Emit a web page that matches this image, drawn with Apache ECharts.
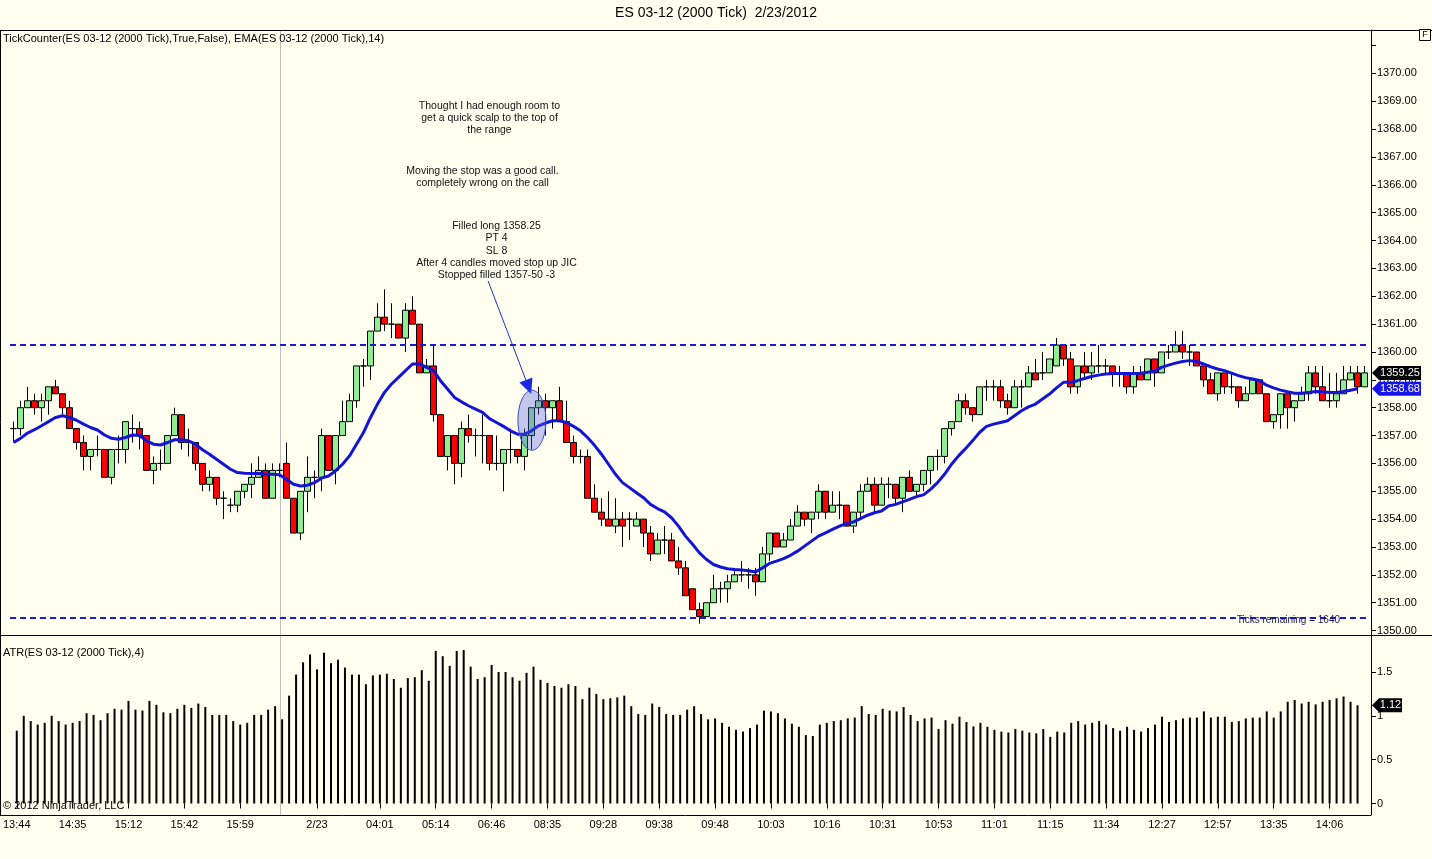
<!DOCTYPE html>
<html>
<head>
    <meta charset="utf-8" />
    <title>ES 03-12 (2000 Tick) 2/23/2012</title>
    <script src="https://cdn.jsdelivr.net/npm/echarts@6/dist/echarts.min.js"></script>
    <style>
        html, body { margin: 0; padding: 0; background: #fffff0; }
        #main { width: 1432px; height: 859px; }
    </style>
</head>
<body>
    <div id="main"></div>
    <script type="text/javascript">
        // 2000 tick bars, ES 03-12
        var opens = [
            1357.25,1357.25,1358,1358.25,1358,1358.25,1358.75,1358.5,1358,1357.25,
            1356.75,1356.25,1356.5,1356.5,1355.5,1356.5,1356.5,1357.25,1357.25,1357,
            1355.75,1356,1356,1357,1357.75,1356.75,1356.75,1356,1355.25,1355.5,
            1354.75,1354.5,1354.5,1355,1355.25,1355.5,1355.75,1354.75,1355.75,1356,
            1354.75,1353.5,1355,1355.5,1355.5,1357,1355.75,1357,1357.5,1358.25,
            1359.5,1359.5,1360.75,1361.25,1361,1361,1360.5,1361.5,1361,1359.25,
            1359.5,1357.75,1356.25,1357,1356,1357.25,1357,1357,1357,1356,
            1356,1356.5,1356.5,1356.25,1357,1358,1358.25,1358,1358.25,1357.5,
            1356.75,1356.25,1356.25,1354.75,1354.25,1354,1353.75,1354,1354,1353.75,
            1354,1353.5,1352.75,1353.25,1353.25,1352.5,1352.25,1351.5,1350.75,1350.5,
            1351,1351.5,1351.5,1351.75,1352,1352,1352,1351.75,1352.75,1353.5,
            1353,1353.25,1353.75,1354.25,1354,1354.25,1355,1354.25,1354.5,1354.5,
            1353.75,1354.25,1355,1355.25,1354.5,1355.25,1355.25,1354.75,1355.5,1355,
            1355.25,1355.75,1356.25,1356.25,1357.25,1357.5,1358.25,1358,1357.75,1358.75,
            1358.75,1358.75,1358.25,1358,1358.75,1358.75,1359.25,1359.25,1359.25,1359.5,
            1360.25,1359.75,1358.75,1359.5,1359.25,1359.5,1359.5,1359.5,1359.25,1359.25,
            1358.75,1359.25,1359,1359.75,1359.25,1360,1360,1360.25,1360,1360,
            1359.5,1359,1358.5,1359.25,1358.75,1358.75,1358.25,1358.5,1359,1358.5,
            1357.5,1357.75,1358.5,1358,1358.25,1358.5,1359.25,1358.75,1358.25,1358.25,
            1358.5,1359,1359.25,1358.75
        ];
        var highs = [
            1357.5,1358.25,1358.75,1358.5,1358.5,1358.75,1359,1358.5,1358.25,1357.25,
            1357,1356.5,1357,1356.5,1356.5,1357,1357.5,1357.75,1357.5,1357,
            1356.25,1356.5,1357,1358,1357.75,1357.25,1356.75,1356,1355.75,1355.5,
            1355,1354.75,1355,1355.25,1356,1356.25,1356,1356,1356,1356.75,
            1354.75,1355,1356.25,1355.75,1357.25,1357,1357,1358.25,1358.5,1359.5,
            1359.75,1360.75,1361.75,1362.25,1361.75,1361,1361.75,1362,1361,1359.75,
            1360.25,1357.75,1357,1357,1357.5,1357.75,1357.25,1357.75,1357,1357,
            1356.5,1357.25,1356.5,1357.25,1358,1358.75,1358.5,1358.25,1358.75,1358.25,
            1357,1356.5,1356.5,1355.25,1354.75,1355,1354.75,1354.25,1354.25,1354.25,
            1354,1353.75,1353.5,1353.75,1353.5,1353,1352.5,1351.5,1351,1351,
            1352,1351.75,1352,1352.25,1352.5,1352.25,1352.25,1353,1353.5,1353.5,
            1353.5,1354,1354.5,1354.25,1354.25,1355.25,1355,1355,1355,1354.5,
            1354.25,1355.25,1355.5,1355.5,1355.5,1355.5,1355.25,1355.5,1355.75,1355.25,
            1355.75,1356.25,1356.5,1357.25,1357.5,1358.5,1358.5,1358,1358.75,1359,
            1359,1359,1358.5,1359,1359,1359.5,1359.75,1360,1359.75,1360.5,
            1360.25,1360,1359.5,1360,1360,1360.25,1359.75,1359.5,1359.5,1359.25,
            1359.5,1359.5,1359.75,1359.75,1360,1360.25,1360.75,1360.75,1360.25,1360,
            1359.5,1359.25,1359.25,1359.25,1359.25,1358.75,1358.75,1359,1359,1358.5,
            1357.75,1358.5,1358.5,1358.25,1358.75,1359.5,1359.5,1359.5,1359.25,1359.25,
            1359.5,1359.5,1359.5,1359.5
        ];
        var lows = [
            1356.75,1357,1358,1357.75,1357.5,1357.75,1358.5,1357.75,1357.25,1356.5,
            1355.75,1355.75,1356.25,1355.5,1355.25,1356,1356,1356.75,1356.5,1355.75,
            1355.25,1355.75,1356,1357,1356.5,1356.25,1355.75,1355,1355,1354.5,
            1354,1354.25,1354.25,1354.75,1354.75,1355.5,1354.75,1354.75,1355.5,1354.75,
            1353.5,1353.25,1354.25,1354.75,1355,1355.75,1355.25,1357,1357.5,1358,
            1358.75,1359,1360.75,1360.75,1360.5,1360.5,1360,1361,1359.25,1359.25,
            1357.5,1356.25,1355.75,1355.25,1355.5,1356.75,1356.25,1356,1355.75,1355.75,
            1355,1356,1356,1355.75,1356.5,1357.75,1357,1357.25,1357.5,1356.75,
            1356,1356,1354.75,1354.25,1353.75,1353.75,1353.5,1353,1353.25,1353.75,
            1353,1352.5,1352.75,1352.75,1352.5,1352,1351.25,1350.75,1350.25,1350.5,
            1351,1351,1351,1351.75,1351.75,1351.5,1351.25,1351.75,1352.5,1353,
            1353,1353.25,1353.75,1353.75,1353.5,1354,1354,1354.25,1354,1353.75,
            1353.5,1354,1355,1354.25,1354.5,1354.75,1354.5,1354.25,1355,1354.75,
            1355,1355.25,1355.75,1356,1357,1357.5,1357.75,1357.5,1357.75,1358.25,
            1358.25,1358,1357.75,1358,1358,1358.75,1359,1359,1359.25,1359.5,
            1359.5,1358.5,1358.5,1359,1359,1359.25,1359.25,1358.75,1358.75,1358.5,
            1358.5,1359,1359,1358.75,1359.25,1359.75,1360,1359.75,1359.5,1359.5,
            1358.75,1358.5,1358.25,1358.5,1358.5,1358,1358.25,1358.5,1358.5,1357.5,
            1357.25,1357.25,1357.25,1357.5,1358.25,1358.25,1358.5,1358.25,1358,1358,
            1358.5,1359,1358.5,1358.75
        ];
        var closes = [
            1357.25,1358,1358.25,1358,1358.25,1358.75,1358.5,1358,1357.25,1356.75,
            1356.25,1356.5,1356.5,1355.5,1356.5,1356.5,1357.5,1357.25,1357,1355.75,
            1356,1356,1357,1357.75,1356.75,1356.75,1356,1355.25,1355.5,1354.75,
            1354.75,1354.5,1355,1355.25,1355.5,1355.75,1354.75,1355.75,1355.75,1354.75,
            1353.5,1355,1355.5,1355.5,1357,1355.75,1357,1357.5,1358.25,1359.5,
            1359.5,1360.75,1361.25,1361,1361,1360.5,1361.5,1361,1359.25,1359.5,
            1357.75,1356.25,1357,1356,1357.25,1357,1357,1357,1356,1356,
            1356.5,1356.5,1356.25,1357,1358,1358.25,1358,1358.25,1357.5,1356.75,
            1356.25,1356.25,1354.75,1354.25,1354,1353.75,1354,1353.75,1354,1354,
            1353.5,1352.75,1353.25,1353.25,1352.5,1352.25,1351.25,1350.75,1350.5,1351,
            1351.5,1351.5,1351.75,1352,1352,1352,1351.75,1352.75,1353.5,1353,
            1353.25,1353.75,1354.25,1354,1354.25,1355,1354.25,1354.5,1354.5,1353.75,
            1354.25,1355,1355.25,1354.5,1355.25,1355.25,1354.75,1355.5,1355,1355.25,
            1355.75,1356.25,1356.25,1357.25,1357.5,1358.25,1358,1357.75,1358.75,1358.75,
            1358.75,1358.25,1358,1358.75,1358.75,1359.25,1359,1359.25,1359.75,1360.25,
            1359.75,1358.75,1359.5,1359.25,1359.5,1359.5,1359.5,1359.25,1359.25,1358.75,
            1359.25,1359,1359.75,1359.25,1360,1360,1360.25,1360,1360,1359.5,
            1359,1358.5,1359.25,1358.75,1358.75,1358.25,1358.5,1359,1358.5,1357.5,
            1357.75,1358.5,1358,1358.25,1358.5,1359.25,1358.75,1358.25,1358.25,1358.5,
            1359,1359.25,1358.75,1359.25
        ];
        // EMA(14) (plotted up to the last closed bar)
        var ema14 = [
            1356.75,1356.90,1357.09,1357.21,1357.35,1357.50,1357.65,1357.71,1357.65,1357.55,
            1357.41,1357.29,1357.20,1357.02,1356.90,1356.87,1356.93,1357.02,1357.00,1356.81,
            1356.69,1356.66,1356.75,1356.85,1356.85,1356.81,1356.69,1356.49,1356.33,1356.15,
            1355.97,1355.79,1355.67,1355.65,1355.64,1355.64,1355.61,1355.61,1355.59,1355.43,
            1355.25,1355.19,1355.22,1355.31,1355.47,1355.55,1355.73,1355.97,1356.27,1356.69,
            1357.11,1357.65,1358.13,1358.55,1358.85,1359.09,1359.33,1359.57,1359.57,1359.45,
            1359.33,1358.97,1358.67,1358.37,1358.21,1358.07,1357.95,1357.83,1357.61,1357.47,
            1357.33,1357.17,1357.05,1357.05,1357.17,1357.35,1357.45,1357.53,1357.53,1357.47,
            1357.33,1357.17,1356.93,1356.65,1356.33,1355.97,1355.61,1355.31,1355.13,1354.95,
            1354.77,1354.53,1354.38,1354.26,1354.05,1353.75,1353.39,1353.10,1352.79,1352.55,
            1352.37,1352.28,1352.22,1352.19,1352.17,1352.15,1352.10,1352.25,1352.41,1352.49,
            1352.58,1352.70,1352.85,1353.03,1353.21,1353.39,1353.51,1353.63,1353.75,1353.85,
            1353.90,1354.02,1354.14,1354.23,1354.29,1354.47,1354.53,1354.62,1354.71,1354.81,
            1354.87,1355.07,1355.31,1355.61,1355.97,1356.27,1356.53,1356.81,1357.11,1357.33,
            1357.41,1357.47,1357.53,1357.71,1357.89,1358.03,1358.13,1358.31,1358.49,1358.71,
            1358.91,1358.91,1358.97,1359.05,1359.12,1359.17,1359.21,1359.23,1359.23,1359.23,
            1359.23,1359.24,1359.27,1359.31,1359.45,1359.53,1359.60,1359.66,1359.69,1359.66,
            1359.57,1359.47,1359.39,1359.33,1359.24,1359.15,1359.08,1359.03,1358.98,1358.81,
            1358.71,1358.63,1358.57,1358.52,1358.52,1358.55,1358.58,1358.57,1358.55,1358.55,
            1358.58,1358.63,1358.68
        ];
        // ATR(4)
        var atr4 = [
            0.83,1.00,0.94,0.90,0.92,1.00,0.94,0.90,0.92,0.94,
            1.03,1.01,0.95,1.03,1.08,1.07,1.17,1.07,1.06,1.17,
            1.125,1.04,1.03,1.08,1.125,1.09,1.14,1.10,1.01,1.01,
            1.01,0.94,0.90,0.92,1.01,1.01,1.07,1.11,0.96,1.23,
            1.47,1.61,1.70,1.53,1.72,1.60,1.64,1.55,1.47,1.47,
            1.36,1.46,1.47,1.48,1.42,1.32,1.43,1.44,1.52,1.40,
            1.74,1.68,1.57,1.74,1.75,1.56,1.42,1.44,1.58,1.50,
            1.50,1.44,1.40,1.49,1.56,1.41,1.375,1.34,1.32,1.36,
            1.34,1.19,1.32,1.25,1.19,1.20,1.21,1.23,1.11,1.02,
            1.01,1.14,1.10,1.02,1.01,1.01,1.07,1.11,1.02,
            0.96,0.97,0.92,0.875,0.84,0.82,0.86,0.90,1.06,1.05,
            1.03,0.97,0.91,0.875,0.78,0.77,0.90,0.92,0.94,0.95,
            0.97,0.98,1.11,1.02,1.01,1.08,1.06,1.05,1.10,1.01,
            0.94,0.97,0.98,0.85,0.95,0.91,0.99,0.93,0.88,0.92,
            0.875,0.84,0.82,0.81,0.85,0.83,0.81,0.80,0.85,0.76,
            0.82,0.81,0.92,0.94,0.90,0.92,0.94,0.90,0.86,0.83,
            0.875,0.84,0.82,0.86,0.90,0.99,0.93,0.95,0.97,0.98,
            0.98,1.05,0.98,0.99,0.99,0.93,0.94,0.97,0.98,0.98,
            1.05,0.98,1.05,1.16,1.18,1.14,1.16,1.13,1.16,1.18,
            1.20,1.22,1.16,1.12
        ];
        // time labels on the bottom axis (bar index -> text)
        var tickIdx = [0, 8, 16, 24, 32, 43, 52, 60, 68, 76, 84, 92, 100, 108, 116, 124, 132, 140, 148, 156, 164, 172, 180, 188];
        var tickText = ['13:44', '14:35', '15:12', '15:42', '15:59', '2/23', '04:01', '05:14', '06:46', '08:35', '09:28', '09:38',
                        '09:48', '10:03', '10:16', '10:31', '10:53', '11:01', '11:15', '11:34', '12:27', '12:57', '13:35', '14:06'];
        var rangeLines = [1360.25, 1350.45];   // drawn horizontal lines
        var sessionBreak = 38;                 // bar where the new session starts

        // chart notes: [bar index, price, text]
        var notes = [
            [68, 1368.85, 'Thought I had enough room to\nget a quick scalp to the top of\nthe range'],
            [67, 1366.5, 'Moving the stop was a good call.\ncompletely wrong on the call'],
            [69, 1364.52, 'Filled long 1358.25\nPT 4\nSL 8\nAfter 4 candles moved stop up JIC\nStopped filled 1357-50 -3']
        ];

        var FONT = '"Liberation Sans", Arial, sans-serif';
        var cats = opens.map(function (v, i) { return String(i); });
        var candles = opens.map(function (o, i) { return [o, closes[i], lows[i], highs[i]]; });
        var labelMap = {};
        tickIdx.forEach(function (k, j) { labelMap[k] = tickText[j]; });
        function hasLabel(i) { return labelMap[i] !== undefined; }

        var chart = echarts.init(document.getElementById('main'));

        var option = {
            backgroundColor: '#fffff0',
            animation: false,
            grid: [
                { left: 10, right: 64, top: 30, height: 605 },
                { left: 10, right: 64, top: 636, height: 179 }
            ],
            xAxis: [
                { type: 'category', gridIndex: 0, data: cats, show: false },
                {
                    type: 'category', gridIndex: 1, data: cats,
                    axisLine: { show: false },
                    axisTick: { show: true, interval: function (i) { return hasLabel(i); }, alignWithLabel: true, length: 5, lineStyle: { color: '#000' } },
                    axisLabel: {
                        interval: function (i) { return hasLabel(i); },
                        formatter: function (v, i) { return labelMap[i] || ''; },
                        color: '#000', fontSize: 11, fontFamily: FONT, margin: 4
                    }
                }
            ],
            yAxis: [
                {
                    type: 'value', gridIndex: 0, position: 'right', offset: 3,
                    min: 1349.84, max: 1371.56, splitNumber: 22,
                    splitLine: { show: false },
                    axisLine: { show: true, lineStyle: { color: '#000' } },
                    axisTick: { show: true, length: 5, lineStyle: { color: '#000' } },
                    axisLabel: {
                        color: '#000', fontSize: 11, fontFamily: FONT, margin: 6,
                        showMinLabel: false, showMaxLabel: false,
                        formatter: function (v) {
                            if (v < 1349.99 || v > 1370.01 || Math.abs(v - Math.round(v)) > 0.001) return '';
                            return v.toFixed(2);
                        }
                    }
                },
                {
                    type: 'value', gridIndex: 1, position: 'right', offset: 3,
                    min: -0.131, max: 1.91, splitNumber: 4,
                    splitLine: { show: false },
                    axisLine: { show: true, lineStyle: { color: '#000' } },
                    axisTick: { show: true, length: 5, lineStyle: { color: '#000' } },
                    axisLabel: {
                        color: '#000', fontSize: 11, fontFamily: FONT, margin: 6,
                        showMinLabel: false, showMaxLabel: false,
                        formatter: function (v) {
                            if (v < -0.001 || v > 1.51) return '';
                            return String(+v.toFixed(2));
                        }
                    }
                }
            ],
            series: [
                {
                    name: 'ES 03-12',
                    type: 'candlestick',
                    xAxisIndex: 0, yAxisIndex: 0,
                    data: candles,
                    barWidth: 6,
                    itemStyle: {
                        color: '#90ee90', color0: '#ff0000',
                        borderColor: '#000', borderColor0: '#000', borderColorDoji: '#000',
                        borderWidth: 1
                    },
                    markLine: {
                        silent: true, symbol: ['none', 'none'], label: { show: false },
                        lineStyle: { color: '#1a1ad8', type: [6, 4], width: 2 },
                        data: [{ yAxis: rangeLines[0] }, { yAxis: rangeLines[1] }]
                    }
                },
                {
                    name: 'EMA 14',
                    type: 'line',
                    xAxisIndex: 0, yAxisIndex: 0,
                    data: ema14,
                    symbol: 'none',
                    z: 4,
                    lineStyle: { color: '#1414d6', width: 3 }
                },
                {
                    name: 'ATR 4',
                    type: 'bar',
                    xAxisIndex: 1, yAxisIndex: 1,
                    data: atr4,
                    barWidth: 2,
                    itemStyle: { color: '#000' }
                }
            ]
        };
        chart.setOption(option);

        // pixel position of (bar index, value); fractional index allowed
        function px(idx, val, g) {
            var i0 = Math.floor(idx), f = idx - i0;
            var a = chart.convertToPixel({ gridIndex: g || 0 }, [i0, val]);
            var b = chart.convertToPixel({ gridIndex: g || 0 }, [i0 + 1, val]);
            return [a[0] + (b[0] - a[0]) * f, a[1]];
        }

        function tag(y, text, fill, w) {
            var x0 = 1372;
            return [
                { type: 'polygon', z: 120, shape: { points: [[x0, y], [x0 + 7, y - 7], [x0 + w, y - 7], [x0 + w, y + 7], [x0 + 7, y + 7]] }, style: { fill: fill } },
                { type: 'text', z: 121, x: x0 + 7 + (w - 7) / 2, y: y, style: { text: text, fill: '#fff', font: '11px ' + FONT, align: 'center', verticalAlign: 'middle' } }
            ];
        }

        var g = [];
        // session break through both panels
        var sx = Math.round(px(sessionBreak, 1360)[0]) + 0.5;
        g.push({ type: 'line', z: 1, shape: { x1: sx, y1: 30, x2: sx, y2: 815 }, style: { stroke: '#bdbdbd', lineWidth: 1 } });
        // frame
        var frame = { stroke: '#000', lineWidth: 1 };
        g.push({ type: 'line', z: 110, shape: { x1: 0, y1: 30.5, x2: 1432, y2: 30.5 }, style: frame });
        g.push({ type: 'line', z: 110, shape: { x1: 0.5, y1: 30, x2: 0.5, y2: 815 }, style: frame });
        g.push({ type: 'line', z: 110, shape: { x1: 0, y1: 635.5, x2: 1432, y2: 635.5 }, style: frame });
        g.push({ type: 'line', z: 110, shape: { x1: 0, y1: 815.5, x2: 1371, y2: 815.5 }, style: frame });
        g.push({ type: 'rect', z: 110, shape: { x: 1419.5, y: 29.5, width: 11, height: 11 }, style: { fill: '#fffff0', stroke: '#000' } });
        g.push({ type: 'text', z: 111, x: 1425, y: 35, style: { text: 'F', fill: '#000', font: '9px ' + FONT, align: 'center', verticalAlign: 'middle' } });

        // titles and captions
        g.push({ type: 'text', z: 111, x: 716, y: 13, style: { text: 'ES 03-12 (2000 Tick)  2/23/2012', fill: '#000', font: '14px ' + FONT, align: 'center', verticalAlign: 'middle' } });
        g.push({ type: 'text', z: 111, x: 3, y: 39, style: { text: 'TickCounter(ES 03-12 (2000 Tick),True,False), EMA(ES 03-12 (2000 Tick),14)', fill: '#000', font: '11px ' + FONT, verticalAlign: 'middle' } });
        g.push({ type: 'text', z: 111, x: 3, y: 653, style: { text: 'ATR(ES 03-12 (2000 Tick),4)', fill: '#000', font: '11px ' + FONT, verticalAlign: 'middle' } });
        g.push({ type: 'text', z: 111, x: 3, y: 806, style: { text: '\u00a9 2012 NinjaTrader, LLC', fill: '#000', font: '11px ' + FONT, verticalAlign: 'middle' } });
        g.push({ type: 'text', z: 111, x: 1340, y: 620, style: { text: 'Ticks remaining = 1640', fill: '#202060', font: '10px ' + FONT, align: 'right', verticalAlign: 'middle' } });

        // notes
        notes.forEach(function (n) {
            var p = px(n[0], n[1]);
            g.push({ type: 'text', z: 111, x: p[0], y: p[1] - 6, style: { text: n[2], fill: '#111', font: '10.5px ' + FONT, align: 'center', verticalAlign: 'top', lineHeight: 12.3 } });
        });

        // arrow to the entry and ellipse around it
        var a0 = px(67.8, 1362.55), a1 = px(73.96, 1358.49);
        var dx = a1[0] - a0[0], dy = a1[1] - a0[1], len = Math.sqrt(dx * dx + dy * dy);
        var ux = dx / len, uy = dy / len, hl = 15, hw = 7;
        var bx = a1[0] - ux * hl, by = a1[1] - uy * hl;
        g.push({ type: 'line', z: 112, shape: { x1: a0[0], y1: a0[1], x2: bx, y2: by }, style: { stroke: '#2030c8', lineWidth: 1 } });
        g.push({ type: 'polygon', z: 112, shape: { points: [[a1[0], a1[1]], [bx - uy * hw, by + ux * hw], [bx + uy * hw, by - ux * hw]] }, style: { fill: '#1a28e0' } });
        var ec = px(74.06, 1357.55);
        g.push({ type: 'ellipse', z: 112, shape: { cx: ec[0], cy: ec[1], rx: 14, ry: 30 }, style: { fill: 'rgba(80,95,225,0.35)', stroke: '#3a48c8', lineWidth: 1 } });

        // last value tags on the right axes
        var lastClose = closes[closes.length - 1];
        var lastEma = ema14[ema14.length - 1];
        var lastAtr = atr4[atr4.length - 1];
        g = g.concat(tag(px(0, lastClose)[1], lastClose.toFixed(2), '#000', 49));
        g = g.concat(tag(px(0, lastEma)[1], lastEma.toFixed(2), '#1616e8', 49));
        g = g.concat(tag(px(0, lastAtr, 1)[1], lastAtr.toFixed(2), '#000', 30));

        chart.setOption({ graphic: g });
    </script>
</body>
</html>
